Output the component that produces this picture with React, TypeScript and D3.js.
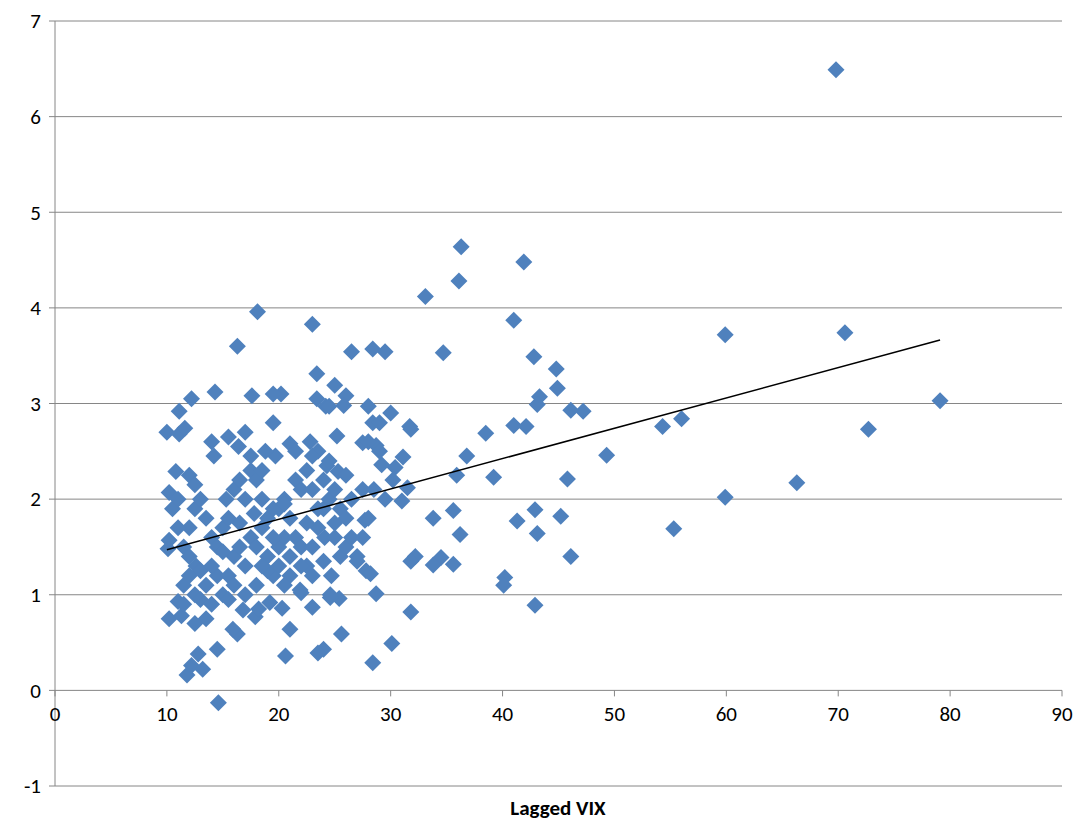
import React, { useEffect, useRef } from 'react';
import * as d3 from 'd3';

const X_TICKS = [0, 10, 20, 30, 40, 50, 60, 70, 80, 90];
const Y_TICKS = [-1, 0, 1, 2, 3, 4, 5, 6, 7];
const X_LABEL = 'Lagged VIX';

// lagged VIX, value
const POINTS: [number, number][] = [
  [69.8, 6.49], [70.6, 3.74], [59.9, 3.72], [79.1, 3.03], [72.7, 2.73], [66.3, 2.17], [59.9, 2.02],
  [55.3, 1.69], [56, 2.84], [54.3, 2.76], [49.3, 2.46], [47.2, 2.92], [46.1, 2.93], [45.8, 2.21],
  [46.1, 1.4], [45.2, 1.82], [44.8, 3.36], [44.9, 3.16], [43.3, 3.07], [43.1, 2.99], [42.8, 3.49],
  [42.1, 2.76], [41.9, 4.48], [41, 3.87], [41, 2.77], [41.3, 1.77], [42.9, 1.89], [43.1, 1.64],
  [42.9, 0.89], [40.2, 1.18], [40.1, 1.1], [38.5, 2.69], [39.2, 2.23], [36.8, 2.45], [36.3, 4.64],
  [36.1, 4.28], [35.9, 2.25], [36.2, 1.63], [35.6, 1.88], [35.6, 1.32], [34.7, 3.53], [34.5, 1.39],
  [33.8, 1.8], [33.8, 1.31], [33.1, 4.12], [32.2, 1.4], [31.8, 1.35], [31.8, 0.82], [31.7, 2.76],
  [31.8, 2.73], [31.5, 2.12], [31.1, 2.44], [31.0, 1.98], [30.4, 2.33], [30.2, 2.2], [30.0, 2.9],
  [29.5, 3.54], [30.1, 0.49], [29.2, 2.36], [28.7, 1.01], [28.4, 0.29], [28.4, 3.57], [28.0, 2.97],
  [28.4, 2.8], [28.7, 2.56], [27.5, 2.59], [27.7, 1.78], [27.8, 1.25], [28.2, 1.22], [26.5, 3.54],
  [26.0, 3.08], [25.8, 2.98], [25.0, 3.19], [25.2, 2.66], [25.3, 2.29], [25.6, 0.59], [25.4, 0.96],
  [24.6, 0.97], [24.0, 0.43], [23.5, 0.39], [23.0, 0.87], [23.0, 3.83], [23.4, 3.31], [23.4, 3.05],
  [24.2, 2.97], [24.5, 2.97], [22.8, 2.6], [23.5, 2.5], [24.3, 2.35], [24.1, 1.6], [24.7, 1.2],
  [24.6, 1.0], [21.0, 0.64], [20.6, 0.36], [21.0, 2.58], [20.2, 3.1], [19.5, 3.1], [18.1, 3.96],
  [17.6, 3.08], [16.3, 3.6], [14.3, 3.12], [12.2, 3.05], [10.0, 2.7], [11.1, 2.92], [11.1, 2.68],
  [11.6, 2.74], [10.8, 2.29], [12.0, 2.25], [10.2, 2.07], [14.0, 2.6], [14.2, 2.45], [15.5, 2.65],
  [16.4, 2.55], [17.0, 2.7], [19.5, 2.8], [19.7, 2.45], [18.8, 2.5], [15.3, 2.0], [12.6, 1.3],
  [10.2, 1.57], [10.1, 1.48], [10.2, 0.75], [11, 0.93], [11.3, 0.78], [11.8, 0.16], [12.2, 0.26],
  [12.8, 0.38], [13.2, 0.22], [14.5, 0.43], [14.6, -0.13], [16.3, 0.59], [15.9, 0.64], [16.8, 0.84],
  [17.9, 0.77], [18.2, 0.85], [19.2, 0.92], [20.3, 0.86], [22.0, 1.02], [21.9, 1.05],
  [11.5, 1.1], [12, 1.2], [12.5, 1.0], [13, 0.95], [13.5, 1.1], [14, 0.9], [14.5, 1.2], [15, 1.0],
  [15.5, 1.2], [16, 1.4], [16.5, 1.5], [17, 1.3], [17.5, 1.6], [18, 1.5], [18.5, 1.7], [19, 1.4],
  [19.5, 1.2], [20, 1.5], [20.5, 1.6], [21, 1.4], [21.5, 1.6], [22, 1.5], [22.5, 1.3], [23, 1.5],
  [23.5, 1.7], [24, 1.9], [24.5, 2.0], [25, 2.1], [25.5, 1.9], [26, 1.8], [26.5, 2.0], [27, 1.4],
  [27.5, 1.6], [28, 1.8], [28.5, 2.1], [29, 2.5], [29.5, 2.0], [12.0, 1.7], [12.5, 1.9], [13.0, 2.0],
  [13.5, 1.8], [14.0, 1.6], [14.5, 1.5], [15.0, 1.7], [15.5, 1.8], [16.0, 2.1], [16.5, 2.2],
  [17.0, 2.0], [17.5, 2.3], [18.0, 2.2], [18.5, 2.0], [19.0, 1.8], [19.5, 1.6], [20.0, 1.9],
  [20.5, 2.0], [21.0, 1.8], [21.5, 2.2], [22.0, 2.1], [22.5, 2.3], [23.0, 2.1], [23.5, 1.9],
  [24.0, 2.2], [24.5, 2.4], [25.0, 1.6], [25.5, 1.4], [26.0, 1.5], [10.5, 1.9], [11.0, 1.7],
  [11.5, 1.5], [12.0, 1.4], [13.0, 1.25], [14.0, 1.3], [15.0, 1.45], [16.0, 1.1], [17.0, 1.0],
  [18.0, 1.1], [19.0, 1.25], [20.0, 1.3], [21.0, 1.2], [22.0, 1.3], [23.0, 1.2], [24.0, 1.35],
  [11.0, 2.0], [12.5, 2.15], [17.5, 2.45], [18.5, 2.3], [21.5, 2.5], [23, 2.45], [26, 2.25],
  [27.5, 2.1], [16.5, 1.75], [19.5, 1.9], [22.5, 1.75], [25, 1.75], [13.5, 0.75], [12.5, 0.7],
  [11.5, 0.9], [15.5, 0.95], [18.5, 1.3], [20.5, 1.1], [27, 1.35], [26.5, 1.6], [28, 2.6], [29, 2.8],
  [20.5, 1.95], [17.8, 1.85],
];

const App: React.FC = () => {
  const ref = useRef<SVGSVGElement>(null);

  useEffect(() => {
    document.body.style.margin = '0';
    const svg = d3.select(ref.current);
    svg.selectAll('*').remove();

    const x = d3.scaleLinear().domain([0, 90]).range([55, 1062]);
    const y = d3.scaleLinear().domain([-1, 7]).range([786, 21]);
    const font = 'Carlito, "Open Sans", sans-serif';

    // gridlines
    svg.append('g').selectAll('line').data(Y_TICKS).join('line')
      .attr('x1', x(0)).attr('x2', x(90))
      .attr('y1', (d) => y(d)).attr('y2', (d) => y(d))
      .attr('stroke', '#868686').attr('stroke-width', 1);

    svg.append('line').attr('x1', x(0)).attr('x2', x(0)).attr('y1', y(-1)).attr('y2', y(7))
      .attr('stroke', '#868686');

    // tick marks
    svg.append('g').selectAll('line').data(Y_TICKS).join('line')
      .attr('x1', x(0) - 6).attr('x2', x(0)).attr('y1', (d) => y(d)).attr('y2', (d) => y(d))
      .attr('stroke', '#868686');
    svg.append('g').selectAll('line').data(X_TICKS).join('line')
      .attr('x1', (d) => x(d)).attr('x2', (d) => x(d)).attr('y1', y(0)).attr('y2', y(0) + 6)
      .attr('stroke', '#868686');

    svg.append('g').selectAll('text').data(Y_TICKS).join('text')
      .attr('x', x(0) - 14).attr('y', (d) => y(d)).attr('dy', '0.35em')
      .attr('text-anchor', 'end').attr('font-family', font).attr('font-size', 21)
      .text((d) => d);
    svg.append('g').selectAll('text').data(X_TICKS).join('text')
      .attr('x', (d) => x(d)).attr('y', y(0) + 31)
      .attr('text-anchor', 'middle').attr('font-family', font).attr('font-size', 21)
      .text((d) => d);

    svg.append('text').attr('x', 558).attr('y', 815).attr('text-anchor', 'middle')
      .attr('font-family', font).attr('font-size', 21).attr('font-weight', 'bold').text(X_LABEL);

    const r = 8.5;
    const diamond = `M0,${-r}L${r},0L0,${r}L${-r},0Z`;
    svg.append('g').selectAll('path').data(POINTS).join('path')
      .attr('d', diamond)
      .attr('transform', (d) => `translate(${x(d[0])},${y(d[1])})`)
      .attr('fill', '#4F81BD');

    // linear trendline
    const mx = d3.mean(POINTS, (d) => d[0])!;
    const my = d3.mean(POINTS, (d) => d[1])!;
    const slope = d3.sum(POINTS, (d) => (d[0] - mx) * (d[1] - my)) / d3.sum(POINTS, (d) => (d[0] - mx) ** 2);
    const [x0, x1] = d3.extent(POINTS, (d) => d[0]) as [number, number];
    const f = (v: number) => my + slope * (v - mx);
    svg.append('line').attr('x1', x(x0)).attr('y1', y(f(x0))).attr('x2', x(x1)).attr('y2', y(f(x1)))
      .attr('stroke', '#000').attr('stroke-width', 1.5);
  }, []);

  return <svg ref={ref} width={1083} height={824} style={{ display: 'block' }} />;
};

export default App;
